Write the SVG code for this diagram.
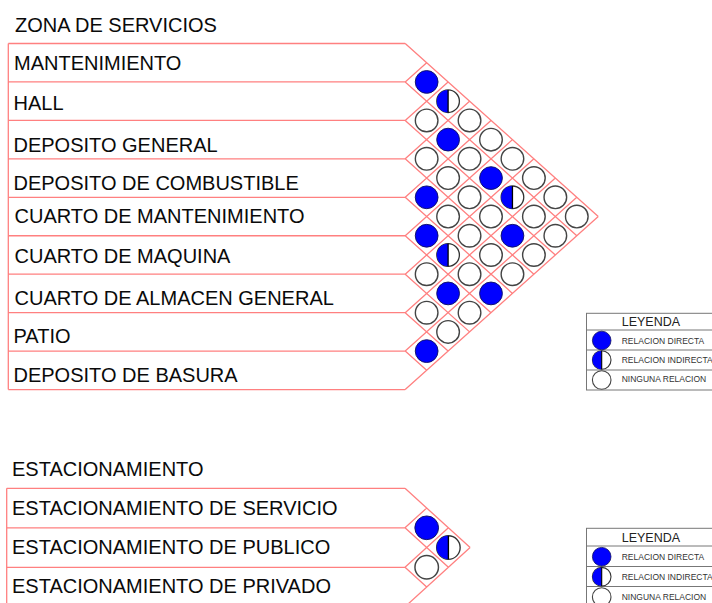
<svg xmlns="http://www.w3.org/2000/svg" width="712" height="603" viewBox="0 0 712 603">
<style>
.lbl{font-family:"Liberation Sans",Arial,sans-serif;font-size:20px;fill:#0a0a0a}
.grid{fill:none;stroke:#ff8080;stroke-width:1.3}
.lg{fill:none;stroke:#777;stroke-width:1}
.lh{font-family:"Liberation Sans",Arial,sans-serif;font-size:12.5px;fill:#222}
.lt{font-family:"Liberation Sans",Arial,sans-serif;font-size:8.5px;fill:#333}
</style>
<defs>
<g id="dir"><circle r="11.4" fill="#0000ff" stroke="#101060" stroke-width="0.9"/></g>
<g id="ind"><circle r="11.3" fill="#fff" stroke="#333" stroke-width="1.3"/><path d="M0,-11.3 A11.3,11.3 0 0 0 0,11.3 Z" fill="#0000ff"/><line x1="0" y1="-11.3" x2="0" y2="11.3" stroke="#000" stroke-width="1.3"/></g>
<g id="non"><circle r="11.3" fill="#fff" stroke="#444" stroke-width="1.4"/></g>
<g id="ldir"><circle r="9.3" fill="#0000ff" stroke="#101060" stroke-width="0.8"/></g>
<g id="lind"><circle r="9.3" fill="#fff" stroke="#333" stroke-width="1.1"/><path d="M0,-9.3 A9.3,9.3 0 0 0 0,9.3 Z" fill="#0000ff"/><line x1="0" y1="-9.3" x2="0" y2="9.3" stroke="#000" stroke-width="1.1"/></g>
<g id="lnon"><circle r="9.3" fill="#fff" stroke="#444" stroke-width="1.1"/></g>
</defs>
<rect width="712" height="603" fill="#fff"/>

<!-- ZONA DE SERVICIOS -->
<text id="title1" class="lbl" x="15" y="32">ZONA DE SERVICIOS</text>
<g id="connectors">
<path class="grid" d="M8.3,43.5V389.55
M8.3,43.5H405.2 M8.3,81.95H405.2 M8.3,120.4H405.2 M8.3,158.85H405.2 M8.3,197.3H405.2 M8.3,235.75H405.2 M8.3,274.2H405.2 M8.3,312.65H405.2 M8.3,351.1H405.2 M8.3,389.55H405.2
M405.2,43.5L598.25,216.525 M405.2,81.95L576.8,235.75 M405.2,120.4L555.35,254.975 M405.2,158.85L533.9,274.2 M405.2,197.3L512.45,293.425 M405.2,235.75L491,312.65 M405.2,274.2L469.55,331.875 M405.2,312.65L448.1,351.1 M405.2,351.1L426.65,370.325
M405.2,81.95L426.65,62.725 M405.2,120.4L448.1,81.95 M405.2,158.85L469.55,101.175 M405.2,197.3L491,120.4 M405.2,235.75L512.45,139.625 M405.2,274.2L533.9,158.85 M405.2,312.65L555.35,178.075 M405.2,351.1L576.8,197.3 M405.2,389.55L598.25,216.525"/>
<path class="grid" d="M6.7,488.3V603
M6.7,488.3H405 M6.7,527.8H405 M6.7,567.3H405 M6.7,606.8H405
M405,488.3L470.1,547.55 M405,527.8L448.4,567.3 M405,567.3L426.7,587.05
M405,527.8L426.7,508.05 M405,567.3L448.4,527.8 M405,606.8L470.1,547.55"/>
</g>

<g id="row-mantenimiento"><text class="lbl" x="14" y="70">MANTENIMIENTO</text></g>
<g id="row-hall"><text class="lbl" x="13.5" y="110">HALL</text></g>
<g id="row-deposito-general"><text class="lbl" x="13.5" y="151.7">DEPOSITO GENERAL</text></g>
<g id="row-deposito-combustible"><text class="lbl" x="13.5" y="190">DEPOSITO DE COMBUSTIBLE</text></g>
<g id="row-cuarto-mantenimiento"><text class="lbl" x="14.5" y="223.3">CUARTO DE MANTENIMIENTO</text></g>
<g id="row-cuarto-maquina"><text class="lbl" x="14.5" y="263.3">CUARTO DE MAQUINA</text></g>
<g id="row-cuarto-almacen"><text class="lbl" x="14.5" y="305">CUARTO DE ALMACEN GENERAL</text></g>
<g id="row-patio"><text class="lbl" x="13.5" y="343.3">PATIO</text></g>
<g id="row-deposito-basura"><text class="lbl" x="13.5" y="381.7">DEPOSITO DE BASURA</text></g>

<g id="matrix1">
<use href="#dir" x="426.65" y="81.95"/>
<use href="#ind" x="448.1" y="101.175"/>
<use href="#non" x="426.65" y="120.4"/>
<use href="#non" x="469.55" y="120.4"/>
<use href="#dir" x="448.1" y="139.625"/>
<use href="#non" x="491" y="139.625"/>
<use href="#non" x="426.65" y="158.85"/>
<use href="#non" x="469.55" y="158.85"/>
<use href="#non" x="512.45" y="158.85"/>
<use href="#non" x="448.1" y="178.075"/>
<use href="#dir" x="491" y="178.075"/>
<use href="#non" x="533.9" y="178.075"/>
<use href="#dir" x="426.65" y="197.3"/>
<use href="#non" x="469.55" y="197.3"/>
<use href="#ind" x="512.45" y="197.3"/>
<use href="#non" x="555.35" y="197.3"/>
<use href="#non" x="448.1" y="216.525"/>
<use href="#non" x="491" y="216.525"/>
<use href="#non" x="533.9" y="216.525"/>
<use href="#non" x="576.8" y="216.525"/>
<use href="#dir" x="426.65" y="235.75"/>
<use href="#non" x="469.55" y="235.75"/>
<use href="#dir" x="512.45" y="235.75"/>
<use href="#non" x="555.35" y="235.75"/>
<use href="#ind" x="448.1" y="254.975"/>
<use href="#non" x="491" y="254.975"/>
<use href="#non" x="533.9" y="254.975"/>
<use href="#non" x="426.65" y="274.2"/>
<use href="#non" x="469.55" y="274.2"/>
<use href="#non" x="512.45" y="274.2"/>
<use href="#dir" x="448.1" y="293.425"/>
<use href="#dir" x="491" y="293.425"/>
<use href="#non" x="426.65" y="312.65"/>
<use href="#non" x="469.55" y="312.65"/>
<use href="#non" x="448.1" y="331.875"/>
<use href="#dir" x="426.65" y="351.1"/>
</g>

<g id="legend1">
<rect class="lg" x="586.5" y="313.3" width="140" height="76.7"/>
<path class="lg" d="M586.5,330H726 M586.5,350H726 M586.5,370H726"/>
<text class="lh" x="621.7" y="325.5">LEYENDA</text>
<use href="#ldir" x="601.7" y="340.5"/>
<use href="#lind" x="601.7" y="360"/>
<use href="#lnon" x="601.7" y="380"/>
<text class="lt" x="621.7" y="343.5">RELACION DIRECTA</text>
<text class="lt" x="621.7" y="362.5">RELACION INDIRECTA</text>
<text class="lt" x="621.7" y="382">NINGUNA RELACION</text>
</g>

<!-- ESTACIONAMIENTO -->
<text id="title2" class="lbl" x="12" y="476">ESTACIONAMIENTO</text>
<g id="row-est-servicio"><text class="lbl" x="12" y="515">ESTACIONAMIENTO DE SERVICIO</text></g>
<g id="row-est-publico"><text class="lbl" x="12" y="554.3">ESTACIONAMIENTO DE PUBLICO</text></g>
<g id="row-est-privado"><text class="lbl" x="12" y="593.3">ESTACIONAMIENTO DE PRIVADO</text></g>

<g id="matrix2">
<use href="#dir" x="426.7" y="527.8" transform="translate(426.7,527.8) scale(1.04) translate(-426.7,-527.8)"/>
<use href="#ind" x="448.4" y="547.55" transform="translate(448.4,547.55) scale(1.04) translate(-448.4,-547.55)"/>
<use href="#non" x="426.7" y="567.3" transform="translate(426.7,567.3) scale(1.04) translate(-426.7,-567.3)"/>
</g>

<g id="legend2">
<rect class="lg" x="586.5" y="528.3" width="140" height="90"/>
<path class="lg" d="M586.5,546H726 M586.5,566.5H726 M586.5,586.5H726"/>
<text class="lh" x="621.7" y="541.5">LEYENDA</text>
<use href="#ldir" x="601.7" y="556.7"/>
<use href="#lind" x="601.7" y="576.7"/>
<use href="#lnon" x="601.7" y="597"/>
<text class="lt" x="621.7" y="559.5">RELACION DIRECTA</text>
<text class="lt" x="621.7" y="579.5">RELACION INDIRECTA</text>
<text class="lt" x="621.7" y="600">NINGUNA RELACION</text>
</g>
</svg>
